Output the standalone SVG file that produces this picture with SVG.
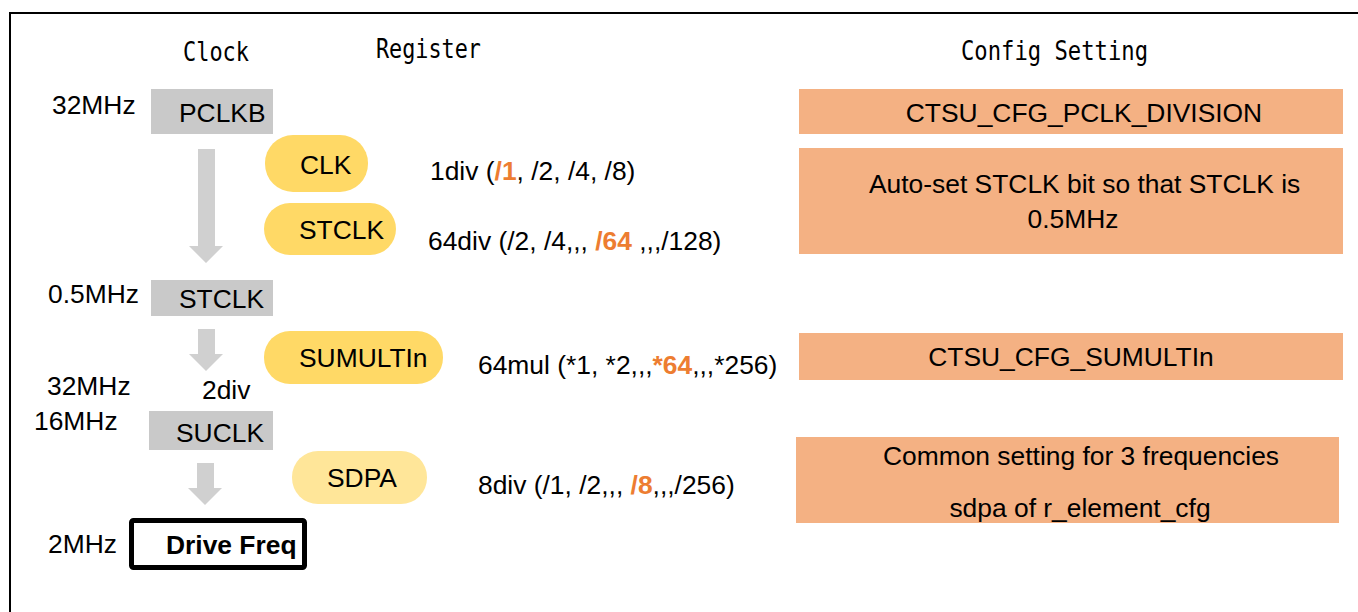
<svg xmlns="http://www.w3.org/2000/svg" width="1358" height="612" viewBox="0 0 1358 612">
<style>
.t{font-family:"Liberation Sans",Arial,sans-serif;font-size:26.4px;fill:#000}
.h{font-family:"DejaVu Sans Mono","Liberation Mono",monospace;font-size:26px;fill:#000}
.b{font-weight:bold}
.o{fill:#ED7D31;font-weight:bold}
.gray{fill:#C9C9C9}
.pill{fill:#FFD966}
.pill2{fill:#FFE699}
.cfg{fill:#F4B183}
.arr{fill:#D0D0D0}
</style>
<rect x="10" y="13" width="1400" height="700" fill="#fff" stroke="#000" stroke-width="2"/>
<g id="headers">
<text class="h" x="183" y="61" textLength="66" lengthAdjust="spacingAndGlyphs">Clock</text>
<text class="h" x="376" y="58" textLength="105" lengthAdjust="spacingAndGlyphs">Register</text>
<text class="h" x="961" y="60" textLength="187" lengthAdjust="spacingAndGlyphs">Config Setting</text>
</g>
<g id="freq-labels">
<text class="t" x="52" y="114">32MHz</text>
<text class="t" x="48" y="303">0.5MHz</text>
<text class="t" x="47" y="395">32MHz</text>
<text class="t" x="202" y="399">2div</text>
<text class="t" x="34" y="430">16MHz</text>
<text class="t" x="48" y="553">2MHz</text>
</g>
<g id="connectors">
<polygon class="arr" points="198,149 215,149 215,246 223,246 206,263 189,246 198,246"/>
<polygon class="arr" points="198,329 215,329 215,354 223,354 206,371 189,354 198,354"/>
<polygon class="arr" points="197,463 214,463 214,488 222,488 205,505 188,488 197,488"/>
</g>
<g id="pclkb">
<rect class="gray" x="151" y="89" width="122" height="45"/>
<text class="t" x="179" y="122">PCLKB</text>
</g>
<g id="stclk-clock">
<rect class="gray" x="151" y="280" width="122" height="36"/>
<text class="t" x="179" y="308">STCLK</text>
</g>
<g id="suclk">
<rect class="gray" x="149" y="411" width="124" height="39"/>
<text class="t" x="176" y="442">SUCLK</text>
</g>
<g id="drive-freq">
<rect x="131.5" y="520.5" width="173" height="47" rx="2" fill="#fff" stroke="#000" stroke-width="5"/>
<text class="t b" x="166" y="554">Drive Freq</text>
</g>
<g id="reg-clk">
<rect class="pill" x="265" y="135" width="103" height="57" rx="28"/>
<text class="t" x="300" y="174">CLK</text>
</g>
<g id="reg-stclk">
<rect class="pill" x="264" y="203" width="132" height="52" rx="26"/>
<text class="t" x="299" y="239">STCLK</text>
</g>
<g id="reg-sumultin">
<rect class="pill" x="264" y="331" width="179" height="53" rx="26"/>
<text class="t" x="299" y="367">SUMULTIn</text>
</g>
<g id="reg-sdpa">
<rect class="pill2" x="292" y="451" width="135" height="53" rx="26"/>
<text class="t" x="327" y="487">SDPA</text>
</g>
<g id="values">
<text class="t" x="430" y="180">1div (<tspan class="o">/1</tspan>, /2, /4, /8)</text>
<text class="t" x="428" y="250">64div (/2, /4,,, <tspan class="o">/64</tspan> ,,,/128)</text>
<text class="t" x="478" y="374">64mul (*1, *2,,,<tspan class="o">*64</tspan>,,,*256)</text>
<text class="t" x="478" y="494">8div (/1, /2,,, <tspan class="o">/8</tspan>,,,/256)</text>
</g>
<g id="cfg-pclk">
<rect class="cfg" x="799" y="89" width="544" height="45"/>
<text class="t" x="1084" y="122" text-anchor="middle">CTSU_CFG_PCLK_DIVISION</text>
</g>
<g id="cfg-stclk">
<rect class="cfg" x="799" y="148" width="544" height="106"/>
<text class="t" x="869" y="193">Auto-set STCLK bit so that STCLK is</text>
<text class="t" x="1073" y="228" text-anchor="middle">0.5MHz</text>
</g>
<g id="cfg-sumultin">
<rect class="cfg" x="799" y="333" width="544" height="47"/>
<text class="t" x="1071" y="366" text-anchor="middle">CTSU_CFG_SUMULTIn</text>
</g>
<g id="cfg-sdpa">
<rect class="cfg" x="796" y="437" width="543" height="86"/>
<text class="t" x="1081" y="465" text-anchor="middle">Common setting for 3 frequencies</text>
<text class="t" x="1080" y="517" text-anchor="middle">sdpa of r_element_cfg</text>
</g>
</svg>
